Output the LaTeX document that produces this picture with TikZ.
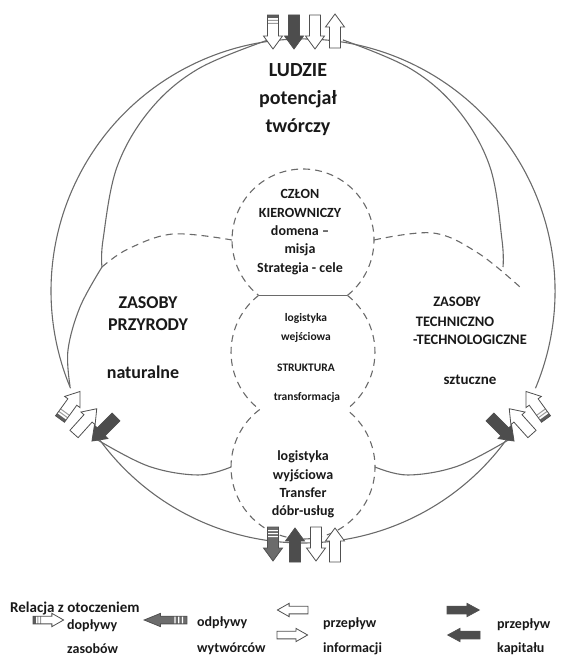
\documentclass[tikz,border=0pt]{standalone}
\usepackage{fontspec}
\setmainfont{Carlito}
\usetikzlibrary{positioning}

\definecolor{linegray}{HTML}{6A6A6A}
\definecolor{edgegray}{HTML}{505050}
\definecolor{darkfill}{HTML}{4D4D4D}
\definecolor{midfill}{HTML}{6C6C6C}
\definecolor{stripegray}{HTML}{9C9C9C}

\tikzset{
  ring/.style={draw=linegray, line width=1.1pt},
  cell/.style={draw=linegray, line width=1.1pt, dash pattern=on 7pt off 5pt},
  txt/.style={font=\bfseries\fontsize{#1}{#1}\selectfont, align=center, text=black!90, inner sep=0pt},
  arrowshape/.style={insert path={(0,-5.5) -- (21,-5.5) -- (21,-9.5) -- (34,0) -- (21,9.5) -- (21,5.5) -- (0,5.5) -- cycle}},
  arrowbody/.style={draw=edgegray, line width=0.8pt, line join=miter},
  inflow/.pic={
    \fill[white, arrowshape];
    \fill[stripegray!60!black] (0,-5.5) rectangle (3,5.5);
    \fill[stripegray] (5,-5.5) rectangle (6,5.5) (8,-5.5) rectangle (9,5.5);
    \draw[arrowbody, arrowshape];
  },
  outflow/.pic={
    \fill[midfill, arrowshape];
    \fill[white] (3,-5.5) rectangle (4,5.5) (6,-5.5) rectangle (7,5.5) (9,-5.5) rectangle (10,5.5);
    \draw[arrowbody, arrowshape];
  },
  info/.pic={\draw[arrowbody, fill=white, arrowshape];},
  capital/.pic={\draw[arrowbody, fill=darkfill, arrowshape];}
}

\begin{document}
\begin{tikzpicture}[x=1pt,y=1pt]
\useasboundingbox (-303,-367) rectangle (269,291);

% outer ring, open at the side arrows
\draw[ring] (0,0) ++(-22.7:252pt) arc[start angle=-22.7, end angle=202.7, radius=252pt];
\draw[ring] (0,0) ++(215.6:252pt) arc[start angle=215.6, end angle=324.4, radius=252pt];

% inner arcs
\draw[ring] plot[smooth, tension=0.6] coordinates {(-35,251) (-105,222) (-153,181) (-186,124) (-200,51) (-201,24)};
\draw[ring] plot[smooth, tension=0.6] coordinates {(-201,24) (-223,-16) (-235,-59) (-233,-95)};
\draw[ring] plot[smooth, tension=0.6] coordinates {(40,251) (108,222) (155,181) (187,124) (199,51) (200,24)};
\draw[ring] plot[smooth, tension=0.6] coordinates {(-207,-148) (-155,-175) (-105,-184) (-72,-176)};
\draw[ring] plot[smooth, tension=0.6] coordinates {(207,-148) (155,-175) (105,-184) (72,-176)};

% resource regions
\draw[cell] plot[smooth, tension=0.6] coordinates {(-201,24) (-175,42) (-130,57) (-71,51)};
\draw[cell] plot[smooth, tension=0.6] coordinates {(71,51) (130,58) (175,38) (217,4)};

% core cells
\coordinate (chordL) at (-44.4,-4.4);
\coordinate (chordR) at (44.4,-4.4);
\coordinate (pinchL) at (-43.3,-118.5);
\coordinate (pinchR) at (43.3,-118.5);
\draw[cell] (chordR) arc[start angle=-51.3, end angle=231.3, radius=71pt];
\draw[ring] (chordL) -- (chordR);
\draw[cell] (chordR) arc[start angle=51.9, end angle=-53, radius=72pt];
\draw[cell] (chordL) arc[start angle=128.1, end angle=233, radius=72pt];
\draw[cell] (pinchL) arc[start angle=127, end angle=413, radius=72pt];

% flows at the top
\pic[rotate=-90] at (-30,276) {inflow};
\pic[rotate=-90] at (-9,276) {capital};
\pic[rotate=-90] at (12,276) {info};
\pic[rotate=90] at (32,243) {info};
% flows at the bottom
\pic[rotate=-90] at (-30,-236) {outflow};
\pic[rotate=90] at (-8,-271) {capital};
\pic[rotate=-90] at (13,-236) {info};
\pic[rotate=90] at (32,-271) {info};
% flows left
\pic[rotate=54] at (-243,-128) {inflow};
\pic[rotate=48] at (-229,-143) {info};
\pic[rotate=225] at (-187,-126) {capital};
% flows right
\pic[rotate=126] at (243,-128) {inflow};
\pic[rotate=132] at (229,-143) {info};
\pic[rotate=-45] at (187,-126) {capital};

% labels
\node[txt=20, font=\bfseries\fontsize{20}{28}\selectfont] (ludzie) at (-5,191) {LUDZIE\\potencjał\\twórczy};
\node[txt=14, font=\bfseries\fontsize{14}{18.3}\selectfont] (czlon) at (-3,59) {CZŁON\\KIEROWNICZY\\domena –\\misja\\Strategia - cele};
\node[txt=11.5] (login) at (3,-27) {logistyka};
\node[txt=11.5] (wejscie) at (3,-46) {wejściowa};
\node[txt=11.5] (struktura) at (3,-77) {STRUKTURA};
\node[txt=11.5] (transform) at (4,-106) {transformacja};
\node[txt=14, font=\bfseries\fontsize{14}{18.3}\selectfont] (transfer) at (0,-193.5) {logistyka\\wyjściowa\\Transfer\\dóbr-usług};
\node[txt=18, font=\bfseries\fontsize{18}{22}\selectfont] (przyroda) at (-155,-23) {ZASOBY\\PRZYRODY};
\node[txt=18] (naturalne) at (-160,-81) {naturalne};
\node[txt=14.5] (zasobyT) at (154,-11) {ZASOBY};
\node[txt=14.5] (technicz) at (152,-31) {TECHNICZNO};
\node[txt=14.5, anchor=west] (technolog) at (110,-49) {-TECHNOLOGICZNE};
\node[txt=15] (sztuczne) at (167,-89) {sztuczne};

% legend
\node[txt=15, anchor=base west] (relacja) at (-293,-321) {Relacja z otoczeniem};
\pic[xscale=0.9, yscale=0.7] at (-270,-329) {inflow};
\node[txt=14, anchor=base west] (doplywy) at (-236,-338) {dopływy};
\node[txt=14, anchor=base west] (zasobow) at (-236,-362) {zasobów};
\pic[xscale=1.26, yscale=0.7, rotate=180] at (-116,-329) {outflow};
\node[txt=14, anchor=base west] (odplywy) at (-106,-335) {odpływy};
\node[txt=14, anchor=base west] (wytworcow) at (-106,-361) {wytwórców};
\pic[xscale=0.9, yscale=0.7, rotate=180] at (5,-319) {info};
\pic[xscale=0.9, yscale=0.7] at (-26,-344) {info};
\node[txt=14, anchor=base west] (przeplywI) at (20,-336) {przepływ};
\node[txt=14, anchor=base west] (informacji) at (20,-361) {informacji};
\pic[xscale=0.95, yscale=0.7] at (144,-319) {capital};
\pic[xscale=0.95, yscale=0.7, rotate=180] at (177,-344) {capital};
\node[txt=14, anchor=base west] (przeplywK) at (194,-337) {przepływ};
\node[txt=14, anchor=base west] (kapitalu) at (194,-361) {kapitału};
\end{tikzpicture}
\end{document}
